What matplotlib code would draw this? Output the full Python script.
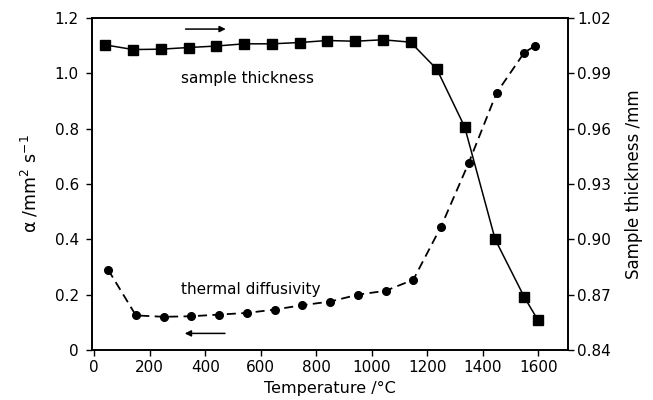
import matplotlib
matplotlib.use("Agg")
import matplotlib.pyplot as plt

plt.rcParams['font.family'] = ['DejaVu Sans']

# thermal diffusivity (left axis)
temp_alpha = [50, 150, 250, 350, 450, 550, 650, 750, 850, 950, 1050, 1150, 1250, 1350, 1450, 1550, 1590]
alpha = [0.29, 0.125, 0.12, 0.122, 0.128, 0.134, 0.146, 0.162, 0.175, 0.20, 0.214, 0.254, 0.446, 0.677, 0.929, 1.075, 1.10]

# sample thickness (right axis)
temp_thick = [40, 140, 240, 340, 440, 540, 640, 740, 840, 940, 1040, 1140, 1235, 1335, 1445, 1550, 1600]
thickness = [1.0054, 1.0029, 1.0031, 1.004, 1.0048, 1.006, 1.006, 1.0067, 1.0078, 1.0074, 1.0082, 1.0069,
             0.9922, 0.961, 0.900, 0.8687, 0.856]

xticks = [0, 200, 400, 600, 800, 1000, 1200, 1400, 1600]
yticks_left = [0, 0.2, 0.4, 0.6, 0.8, 1.0, 1.2]
yticklabels_left = ['0', '0.2', '0.4', '0.6', '0.8', '1.0', '1.2']
yticks_right = [0.84, 0.87, 0.90, 0.93, 0.96, 0.99, 1.02]

fig = plt.figure(figsize=(6.53, 4.0), dpi=100)
ax = fig.add_axes([0.141, 0.125, 0.729, 0.830])
ax2 = ax.twinx()

ax.plot(temp_alpha, alpha, color='black', linestyle=(0, (5, 3)), linewidth=1.3,
        marker='o', markersize=5.5, zorder=3)
ax2.plot(temp_thick, thickness, color='black', linestyle='-', linewidth=1.1,
         marker='s', markersize=7, zorder=3)

ax.set_xlim(-8, 1708)
ax.set_ylim(0, 1.2)
ax2.set_ylim(0.84, 1.02)

ax.set_xticks(xticks)
ax.set_yticks(yticks_left)
ax.set_yticklabels(yticklabels_left)
ax2.set_yticks(yticks_right)
ax2.set_yticklabels([f'{v:.2f}' for v in yticks_right])

for a in (ax, ax2):
    a.tick_params(direction='out', length=4.5, width=1, labelsize=11, colors='black', pad=3)
    for s in a.spines.values():
        s.set_linewidth(1.2)
ax.tick_params(axis='y', pad=5)
ax2.tick_params(axis='y', pad=2)

ax.set_xlabel('Temperature /°C', fontsize=11.5, labelpad=4)
ax.set_ylabel('α /mm$^2$ s$^{-1}$', fontsize=12.5, labelpad=10)
ax2.set_ylabel('Sample thickness /mm', fontsize=12, labelpad=10)

ax.text(313, 0.98, 'sample thickness', fontsize=11, va='center', ha='left')
ax.text(313, 0.22, 'thermal diffusivity', fontsize=11, va='center', ha='left')

ax.annotate('', xy=(484, 1.16), xytext=(319, 1.16),
            arrowprops=dict(arrowstyle='-|>', color='black', lw=1.1, mutation_scale=9))
ax.annotate('', xy=(316, 0.06), xytext=(481, 0.06),
            arrowprops=dict(arrowstyle='-|>', color='black', lw=1.1, mutation_scale=9))

fig.savefig('out.png', dpi=100)
